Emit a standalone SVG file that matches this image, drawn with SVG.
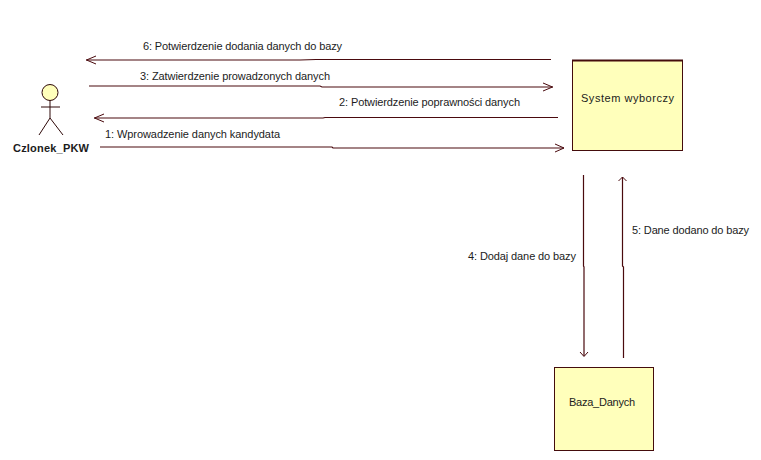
<svg xmlns="http://www.w3.org/2000/svg" width="761" height="460" viewBox="0 0 761 460">
<style>
text{font-family:"Liberation Sans",Arial,sans-serif;font-size:11px;fill:#1c1c1c}
.n{fill:#ffffbb;stroke:#440c0c;stroke-width:1}
.a{fill:#ffffbb;stroke:#2e0808;stroke-width:1}
.s{fill:none;stroke:#2e0808;stroke-width:1}
.c{fill:none;stroke:#4a0a0e;stroke-width:1.2}
.h{fill:none;stroke:#4a0a0e;stroke-width:1}
</style>
<rect width="761" height="460" fill="#fff"/>
<g id="connectors">
<g id="m6"><path class="c" d="M551 59.500H316L300 60H86"/><path class="h" d="M96 56L86.500 60L96 64"/></g>
<g id="m3"><path class="c" d="M89 86H320L322 87H553"/><path class="h" d="M543 83L552.500 87L543 91"/></g>
<g id="m2"><path class="c" d="M558 117.500H325L323 118H94"/><path class="h" d="M104 114L94.500 118L104 122"/></g>
<g id="m1"><path class="c" d="M100 147H332L333 148H564"/><path class="h" d="M555 144L564 148L555 152"/></g>
<g id="m4"><path class="c" d="M583.500 175V266L584 267V356"/><path class="h" d="M580 352L584 356.500L588 352"/></g>
<g id="m5"><path class="c" d="M623.500 358V267L622.500 266V177"/><path class="h" d="M618.500 181L622.500 177L626.500 181"/></g>
<text x="143" y="50" textLength="199">6: Potwierdzenie dodania danych do bazy</text>
<text x="140" y="80" textLength="190">3: Zatwierdzenie prowadzonych danych</text>
<text x="339" y="106" textLength="181">2: Potwierdzenie poprawności danych</text>
<text x="105" y="138" textLength="175">1: Wprowadzenie danych kandydata</text>
<text x="468" y="260" textLength="108">4: Dodaj dane do bazy</text>
<text x="632" y="234" textLength="117">5: Dane dodano do bazy</text>
</g>
<g id="actor-czlonek">
<circle class="a" cx="50" cy="92.500" r="8"/>
<path class="s" d="M50 100.500V118M41 107H60M50 118L39 135M50 118L63 135"/>
<text x="13" y="152" textLength="76" style="font-weight:700">Czlonek_PKW</text>
</g>
<g id="system-wyborczy">
<rect class="n" x="572.500" y="60.500" width="110" height="90"/>
<path d="M572 60.500H683" stroke="#440c0c" stroke-width="2"/>
<text x="581" y="102" textLength="93">System wyborczy</text>
</g>
<g id="baza-danych">
<rect class="n" x="554.500" y="367.500" width="99" height="83"/>
<text x="569" y="406" textLength="66">Baza_Danych</text>
</g>
</svg>
